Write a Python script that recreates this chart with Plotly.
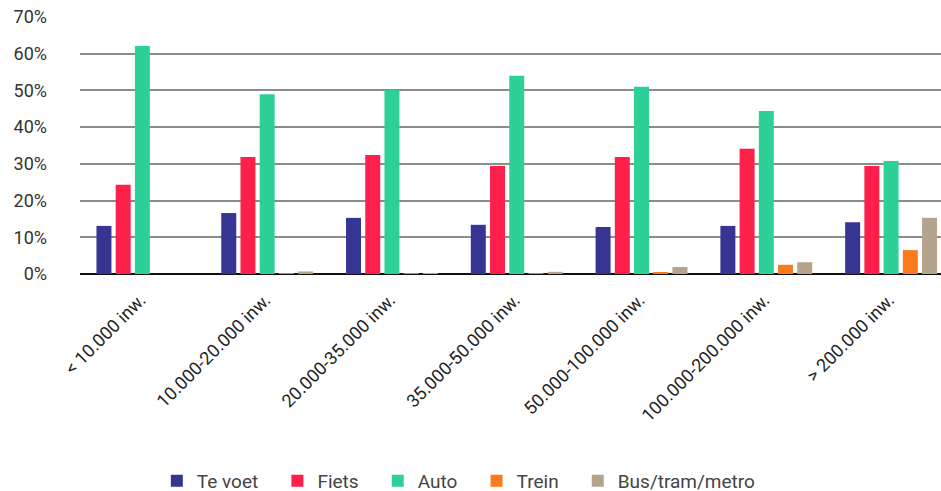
import plotly.graph_objects as go

categories = ["< 10.000 inw.", "10.000-20.000 inw.", "20.000-35.000 inw.", "35.000-50.000 inw.",
              "50.000-100.000 inw.", "100.000-200.000 inw.", "> 200.000 inw."]
te_voet = [13.1, 16.6, 15.3, 13.4, 12.8, 13.1, 14.1]
fiets = [24.3, 31.9, 32.4, 29.4, 31.9, 34.1, 29.4]
auto = [62.1, 49.0, 50.1, 54.0, 51.0, 44.4, 30.8]
trein = [0.0, 0.2, 0.1, 0.1, 0.4, 2.5, 6.5]
bus = [0.0, 0.7, 0.2, 0.6, 1.9, 3.2, 15.3]
series_names = ["Te voet", "Fiets", "Auto", "Trein", "Bus/tram/metro"]
tick_vals = [0, 10, 20, 30, 40, 50, 60, 70]
tick_text = ["0%", "10%", "20%", "30%", "40%", "50%", "60%", "70%"]
dark_grid = [30, 40]

colors = ["#373594", "#FF1F4B", "#2ED195", "#FA7A1E", "#B5A48B"]
values = [te_voet, fiets, auto, trein, bus]

PAD = "\u00a0" * 3

fig = go.Figure()
for i, (name, vals, col) in enumerate(zip(series_names, values, colors)):
    label = name + (PAD if i < len(series_names) - 1 else "")
    fig.add_trace(go.Bar(x=categories, y=vals, name=label, marker_color=col,
                         marker_line_width=0))

for g in dark_grid:
    fig.add_hline(y=g, line_color="#222", line_width=1.5, layer="below")

fig.update_layout(
    width=941, height=491,
    margin=dict(l=80, r=0, t=17, b=217, autoexpand=False),
    paper_bgcolor="white", plot_bgcolor="white",
    barmode="group", bargap=0.23, bargroupgap=0.22,
    font=dict(family="Roboto, sans-serif", color="#333"),
    showlegend=True,
    legend=dict(orientation="h", x=0.44, xanchor="center", y=-0.805,
                yanchor="middle", font=dict(size=19, color="#444"),
                itemsizing="constant"),
)
fig.update_xaxes(tickangle=-45, tickfont=dict(size=18, color="#222"), showgrid=False,
                 ticks="", showline=False, automargin=False,
                 range=[-0.5, 6.4],
                 ticklabelstandoff=11, ticklabelshift=-2)
fig.update_yaxes(range=[0, 70.01], tickvals=tick_vals, ticktext=tick_text,
                 tickfont=dict(size=18, color="#333"), showgrid=True, gridcolor="#8c8c8c",
                 gridwidth=1.5, zeroline=True, zerolinecolor="#111", zerolinewidth=2,
                 ticks="", ticklabelstandoff=32, automargin=False,
                 ticklabeloverflow="allow")

fig.write_html("out.html", config={"displayModeBar": False},
               post_script="document.body.style.margin='0';")
